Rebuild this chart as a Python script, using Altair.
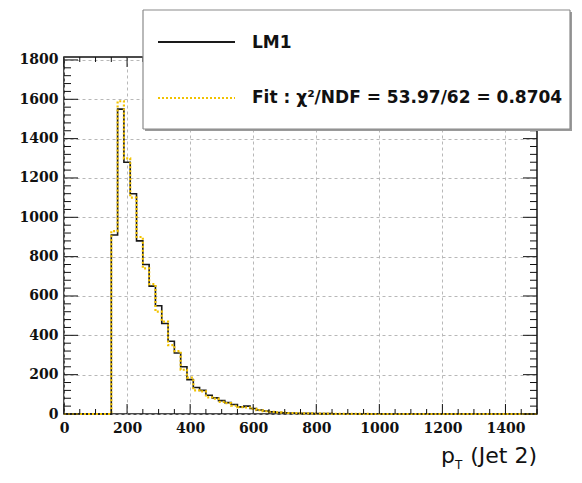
import altair as alt
import pandas as pd

# ---- data ----
bin_width = 20
bin_starts = list(range(150, 1500, bin_width))  # 68 bins, 150..1490

lm1_counts = [910, 1550, 1280, 1120, 880, 760, 650, 550, 460, 370,
              310, 240, 175, 135, 120, 95, 82, 68, 58, 48,
              36, 40, 28, 20, 15, 11, 8, 6, 5, 4,
              3, 3, 2, 2, 2, 1, 1, 1, 1, 0,
              1, 0, 1, 0, 0, 0, 0, 0, 0, 0,
              0, 0, 0, 0, 0, 0, 0, 0, 0, 0,
              0, 0, 0, 0, 0, 0, 0, 0]

fit_counts = [930, 1590, 1300, 1100, 900, 740, 660, 520, 470, 350,
              320, 225, 185, 120, 115, 85, 78, 62, 55, 42,
              35, 33, 26, 20, 14, 11, 8, 7, 5, 4,
              3, 3, 2, 2, 2, 1, 1, 1, 1, 1,
              1, 0, 0, 0, 0, 0, 0, 0, 0, 0,
              0, 0, 0, 0, 0, 0, 0, 0, 0, 0,
              0, 0, 0, 0, 0, 0, 0, 0]

x_major = [0, 200, 400, 600, 800, 1000, 1200, 1400]
x_minor = [v for v in range(0, 1501, 50) if v % 200 != 0]
y_major = [0, 200, 400, 600, 800, 1000, 1200, 1400, 1600, 1800]
y_minor = [v for v in range(0, 1801, 40) if v % 200 != 0]

legend_labels = ["LM1", "Fit : \u03c7\u00b2/NDF = 53.97/62 = 0.8704"]

assert len(lm1_counts) == len(bin_starts) == len(fit_counts)

W, H = 473, 357
X_DOMAIN = [0, 1500]
Y_DOMAIN = [0, 1815]


def step_frame(counts):
    xs = [0] + bin_starts + [1500]
    ys = [0] + counts + [counts[-1]]
    return pd.DataFrame({"x": xs, "y": ys})


xscale = alt.Scale(domain=X_DOMAIN, nice=False, zero=False)
yscale = alt.Scale(domain=Y_DOMAIN, nice=False, zero=False)

label_font = "DejaVu Serif"
xaxis = alt.Axis(values=x_major, format="d", ticks=False, domain=False,
                 grid=True, gridColor="#b8b8b8", gridDash=[3, 3], gridWidth=1,
                 labelFont=label_font, labelFontWeight="bold", labelFontSize=14,
                 labelColor="#111", labelPadding=7, labelFlush=False, title=None)
yaxis = alt.Axis(values=y_major, format="d", ticks=False, domain=False,
                 grid=True, gridColor="#b8b8b8", gridDash=[3, 3], gridWidth=1,
                 labelFont=label_font, labelFontWeight="bold", labelFontSize=14,
                 labelColor="#111", labelPadding=6, labelFlush=False, title=None)


def X(field):
    return alt.X(field, type="quantitative", scale=xscale, axis=xaxis, title=None)


def Y(field):
    return alt.Y(field, type="quantitative", scale=yscale, axis=yaxis, title=None)


black = alt.Chart(step_frame(lm1_counts)).mark_line(
    interpolate="step-after", color="#1a1a1a", strokeWidth=1.6
).encode(x=X("x"), y=Y("y"))

fit = alt.Chart(step_frame(fit_counts)).mark_line(
    interpolate="step-after", color="#f2c200", strokeWidth=2.2, strokeDash=[2, 2]
).encode(x=X("x"), y=Y("y"))

# inside ticks (ROOT style)
ymaj = pd.DataFrame({"v": y_major})
ymin = pd.DataFrame({"v": y_minor})
xmaj = pd.DataFrame({"v": x_major})
xmin = pd.DataFrame({"v": x_minor})


def yticks(df, length):
    left = alt.Chart(df).mark_rule(color="#111", strokeWidth=1).encode(
        y=Y("v"), x=alt.value(0), x2=alt.value(length))
    right = alt.Chart(df).mark_rule(color="#111", strokeWidth=1).encode(
        y=Y("v"), x=alt.value(W - length), x2=alt.value(W))
    return [left, right]


def xticks(df, length):
    bottom = alt.Chart(df).mark_rule(color="#111", strokeWidth=1).encode(
        x=X("v"), y=alt.value(H), y2=alt.value(H - length))
    top = alt.Chart(df).mark_rule(color="#111", strokeWidth=1).encode(
        x=X("v"), y=alt.value(0), y2=alt.value(length))
    return [bottom, top]


tick_layers = yticks(ymaj, 14) + yticks(ymin, 7) + xticks(xmaj, 10) + xticks(xmin, 5)

one = pd.DataFrame({"k": [0]})

# x-axis title p_T(Jet 2)
title_p = alt.Chart(one).mark_text(
    text="p", font="DejaVu Sans", fontSize=22, align="right", baseline="alphabetic", color="#111"
).encode(x=alt.value(391), y=alt.value(406))
title_T = alt.Chart(one).mark_text(
    text="T", font="DejaVu Sans", fontSize=12, align="left", baseline="alphabetic", color="#111"
).encode(x=alt.value(391), y=alt.value(412))
title_rest = alt.Chart(one).mark_text(
    text="(Jet 2)", font="DejaVu Sans", fontSize=22, align="right", baseline="alphabetic", color="#111"
).encode(x=alt.value(W), y=alt.value(406))

# legend box drawn with rules (a thick rule acts as the white fill)
lx0, lx1, ly0, ly1 = 79, 506, -47, 72


def hrule(x0, x1, y, color, width):
    return alt.Chart(one).mark_rule(color=color, strokeWidth=width).encode(
        x=alt.value(x0), x2=alt.value(x1), y=alt.value(y))


def vrule(x, y0, y1, color, width):
    return alt.Chart(one).mark_rule(color=color, strokeWidth=width).encode(
        x=alt.value(x), y=alt.value(y0), y2=alt.value(y1))


box_layers = [
    hrule(lx0 + 2, lx1 + 2, (ly0 + ly1) / 2 + 2, "#9a9a9a", ly1 - ly0),  # shadow
    hrule(lx0, lx1, (ly0 + ly1) / 2, "white", ly1 - ly0),                # fill
    hrule(lx0, lx1, ly0, "#8a8a8a", 1.2),
    hrule(lx0, lx1, ly1, "#8a8a8a", 1.2),
    vrule(lx0, ly0, ly1, "#8a8a8a", 1.2),
    vrule(lx1, ly0, ly1, "#8a8a8a", 1.2),
]

leg_line1 = hrule(94, 171, -15, "#1a1a1a", 2)
leg_line2 = alt.Chart(one).mark_rule(color="#f2c200", strokeWidth=2, strokeDash=[2, 2]).encode(
    x=alt.value(94), x2=alt.value(171), y=alt.value(41))
leg_text1 = alt.Chart(one).mark_text(
    text=legend_labels[0], font="DejaVu Sans", fontWeight="bold", fontSize=17,
    align="left", baseline="middle", color="#111"
).encode(x=alt.value(188), y=alt.value(-14))
leg_text2 = alt.Chart(one).mark_text(
    text=legend_labels[1], font="DejaVu Sans", fontWeight="bold", fontSize=17,
    align="left", baseline="middle", color="#111"
).encode(x=alt.value(188), y=alt.value(41))

chart = alt.layer(
    black, fit, *tick_layers, title_p, title_T, title_rest,
    *box_layers, leg_line1, leg_line2, leg_text1, leg_text2
).properties(
    width=W, height=H,
    autosize=alt.AutoSizeParams(type="none"),
    padding={"left": 56, "top": 49, "right": 36, "bottom": 60},
).configure_view(
    stroke="#111", strokeWidth=1.5
)

chart.save("out.html", embed_options={"renderer": "svg", "actions": False})
